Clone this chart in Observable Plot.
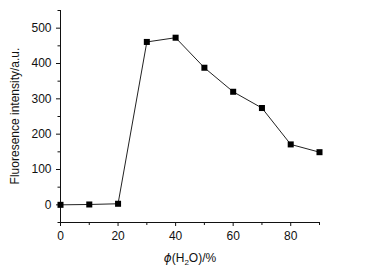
<!DOCTYPE html>
<html>
<head>
<meta charset="utf-8">
<script src="https://cdn.jsdelivr.net/npm/d3@7"></script>
<script src="https://cdn.jsdelivr.net/npm/@observablehq/plot@0.6"></script>
<style>
  html, body { margin: 0; padding: 0; background: #fff; }
  #chart svg { display: block; }
</style>
</head>
<body>
<div id="chart"></div>
<script>
const waterFraction = [0, 10, 20, 30, 40, 50, 60, 70, 80, 90];
const intensity = [0, 1, 3, 461, 473, 388, 320, 274, 171, 149];
const xMajorTicks = [0, 20, 40, 60, 80];
const xMinorTicks = [10, 30, 50, 70, 90];
const yMajorTicks = [0, 100, 200, 300, 400, 500];
const yMinorTicks = [-50, 50, 150, 250, 350, 450, 550];
const yLabel = "Fluoresence intensity/a.u.";

const data = waterFraction.map((x, i) => ({x, y: intensity[i]}));
const ink = "#111";

const plot = Plot.plot({
  width: 366,
  height: 277,
  marginLeft: 60,
  marginRight: 47,
  marginTop: 10,
  marginBottom: 55,
  style: {fontFamily: "'Liberation Sans', Arial, sans-serif", fontSize: "12px", color: ink, background: "#fff"},
  x: {domain: [0, 90]},
  y: {domain: [-50, 550]},
  marks: [
    Plot.axisX({ticks: xMajorTicks, tickSize: 4, tickPadding: 5, label: null, fontSize: 12, stroke: ink}),
    Plot.axisX({ticks: xMinorTicks, tickSize: 3, tickFormat: () => "", label: null, stroke: ink}),
    Plot.axisY({ticks: yMajorTicks, tickSize: 4, tickPadding: 5, label: null, fontSize: 12, stroke: ink}),
    Plot.axisY({ticks: yMinorTicks, tickSize: 2.5, tickFormat: () => "", label: null, stroke: ink}),
    Plot.ruleX([0], {stroke: ink, strokeWidth: 1}),
    Plot.ruleY([-50], {stroke: ink, strokeWidth: 1}),
    Plot.line(data, {x: "x", y: "y", stroke: "#222", strokeWidth: 1}),
    Plot.dot(data, {x: "x", y: "y", symbol: "square", r: 3.4, fill: "#000", stroke: "none"})
  ]
});

const svg = d3.select(plot);
// y-axis title
svg.append("text")
  .attr("transform", "translate(19,116) rotate(-90)")
  .attr("text-anchor", "middle")
  .attr("font-family", "'Liberation Sans', Arial, sans-serif")
  .attr("font-size", 12)
  .attr("fill", ink)
  .text(yLabel);
// x-axis title: ϕ(H2O)/%
const xt = svg.append("text")
  .attr("x", 190).attr("y", 262)
  .attr("text-anchor", "middle")
  .attr("font-family", "'Liberation Sans', Arial, sans-serif")
  .attr("font-size", 12)
  .attr("fill", ink);
xt.append("tspan").attr("font-style", "italic").attr("font-family", "'DejaVu Sans', sans-serif").text("ϕ");
xt.append("tspan").text("(H");
xt.append("tspan").attr("font-size", 8).attr("dy", 3).text("2");
xt.append("tspan").attr("dy", -3).text("O)/%");

document.getElementById("chart").appendChild(plot);
</script>
</body>
</html>
